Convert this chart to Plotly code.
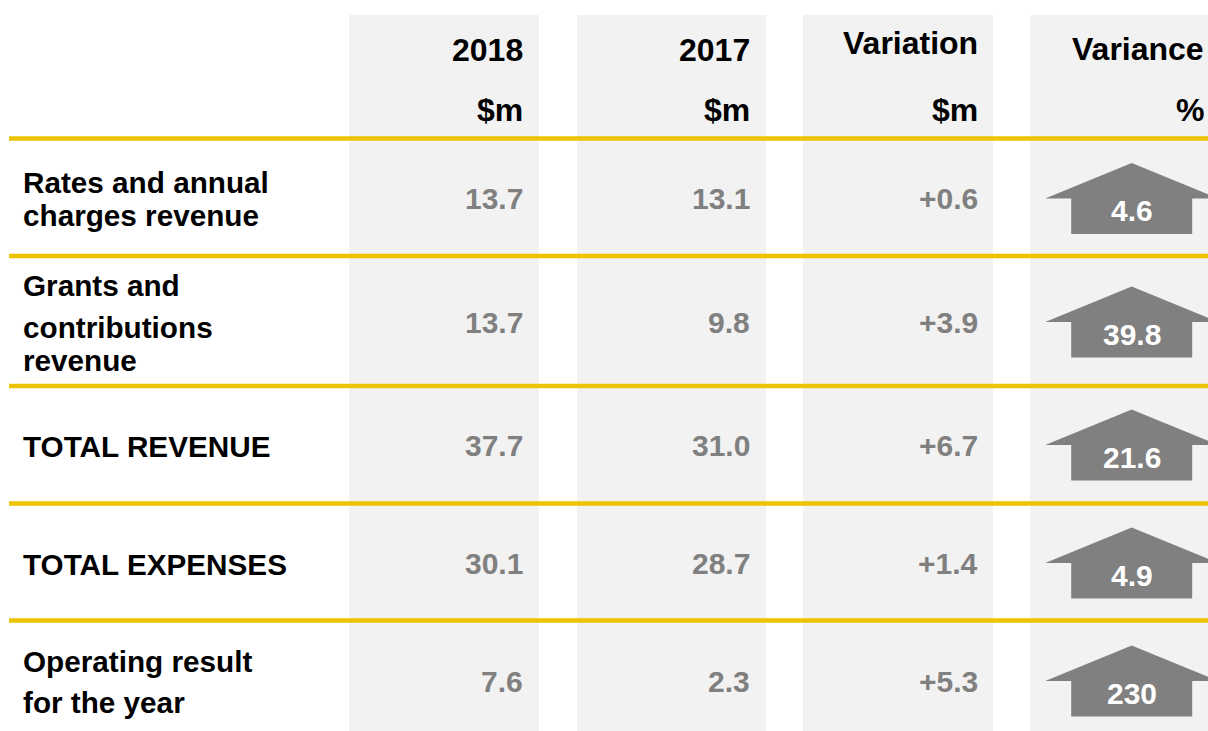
import plotly.graph_objects as go

# ---------------- data ----------------
row_labels = [
    ["Rates and annual", "charges revenue"],
    ["Grants and", "contributions", "revenue"],
    ["TOTAL REVENUE"],
    ["TOTAL EXPENSES"],
    ["Operating result", "for the year"],
]
col_headers = ["2018", "2017", "Variation", "Variance"]
col_units = ["$m", "$m", "$m", "%"]
values_2018 = [13.7, 13.7, 37.7, 30.1, 7.6]
values_2017 = [13.1, 9.8, 31.0, 28.7, 2.3]
variation = [0.6, 3.9, 6.7, 1.4, 5.3]
variance_pct = [4.6, 39.8, 21.6, 4.9, 230]

# ---------------- layout constants ----------------
W, H = 1208, 731
FONT = "Liberation Sans, Arial, sans-serif"
GRAY_BG = "#f2f2f2"
YELLOW = "#edc300"
VAL_GRAY = "#808080"
ARROW_GRAY = "#808080"

col_spans = [(349, 539), (577, 766), (803, 993), (1030, 1210)]
col_right = [525, 752, 980, 1206]
header_y = [50, 50, 43, 49]
unit_y = 110
col_top = 15
sep_y = [138.5, 256, 386, 503.5, 620.5]
row_center = [198.5, 322, 445, 563, 681]
label_line_y = [[182, 215], [285, 327, 360], [446], [564], [661, 702]]
label_x = 21

arrow_cx = 1131.7
arrow_half_w = 86.5
body_half_w = 60.5
arrow_up = 35.5
arrow_down = 35.5

fig = go.Figure()

shapes = []
for (x0, x1) in col_spans:
    shapes.append(dict(type="rect", xref="x", yref="y", x0=x0, x1=x1, y0=col_top, y1=H + 5,
                       fillcolor=GRAY_BG, line=dict(width=0), layer="below"))
for y in sep_y:
    shapes.append(dict(type="line", xref="x", yref="y", x0=9, x1=W + 5, y0=y, y1=y,
                       line=dict(color=YELLOW, width=4.5), layer="below"))

annotations = []

def add_text(x, y, text, size, color, anchor="right"):
    annotations.append(dict(x=x, y=y, xref="x", yref="y", text=text, showarrow=False,
                            xanchor=anchor, yanchor="middle",
                            font=dict(family=FONT, size=size, color=color, weight="bold")))

# headers
for i, h in enumerate(col_headers):
    add_text(col_right[i], header_y[i], h, 32, "black")
    add_text(col_right[i], unit_y, col_units[i], 32, "black")

# row labels
for lines, ys in zip(row_labels, label_line_y):
    for line, y in zip(lines, ys):
        add_text(label_x, y, line, 29.7, "black", anchor="left")

# values
for r in range(len(row_labels)):
    cy = row_center[r]
    add_text(col_right[0], cy, f"{values_2018[r]:.1f}", 30, VAL_GRAY)
    add_text(col_right[1], cy, f"{values_2017[r]:.1f}", 30, VAL_GRAY)
    add_text(col_right[2], cy, f"+{variation[r]:.1f}", 30, VAL_GRAY)

# arrows
for r, pct in enumerate(variance_pct):
    cy = row_center[r]
    xs = [arrow_cx, arrow_cx + arrow_half_w, arrow_cx + body_half_w, arrow_cx + body_half_w,
          arrow_cx - body_half_w, arrow_cx - body_half_w, arrow_cx - arrow_half_w, arrow_cx]
    ys = [cy - arrow_up, cy, cy, cy + arrow_down, cy + arrow_down, cy, cy, cy - arrow_up]
    fig.add_trace(go.Scatter(x=xs, y=ys, mode="lines", fill="toself", fillcolor=ARROW_GRAY,
                             line=dict(width=0, color=ARROW_GRAY), hoverinfo="skip",
                             showlegend=False))
    add_text(arrow_cx, cy + 12, f"{pct:g}", 30, "white", anchor="center")

fig.update_layout(
    width=W, height=H,
    margin=dict(l=0, r=0, t=0, b=0),
    paper_bgcolor="white", plot_bgcolor="white",
    xaxis=dict(range=[0, W], visible=False, fixedrange=True),
    yaxis=dict(range=[H, 0], visible=False, fixedrange=True),
    shapes=shapes, annotations=annotations, showlegend=False,
)

fig.write_html("out.html", config={"displayModeBar": False},
               post_script="document.body.style.margin='0';document.body.style.overflow='hidden';")
